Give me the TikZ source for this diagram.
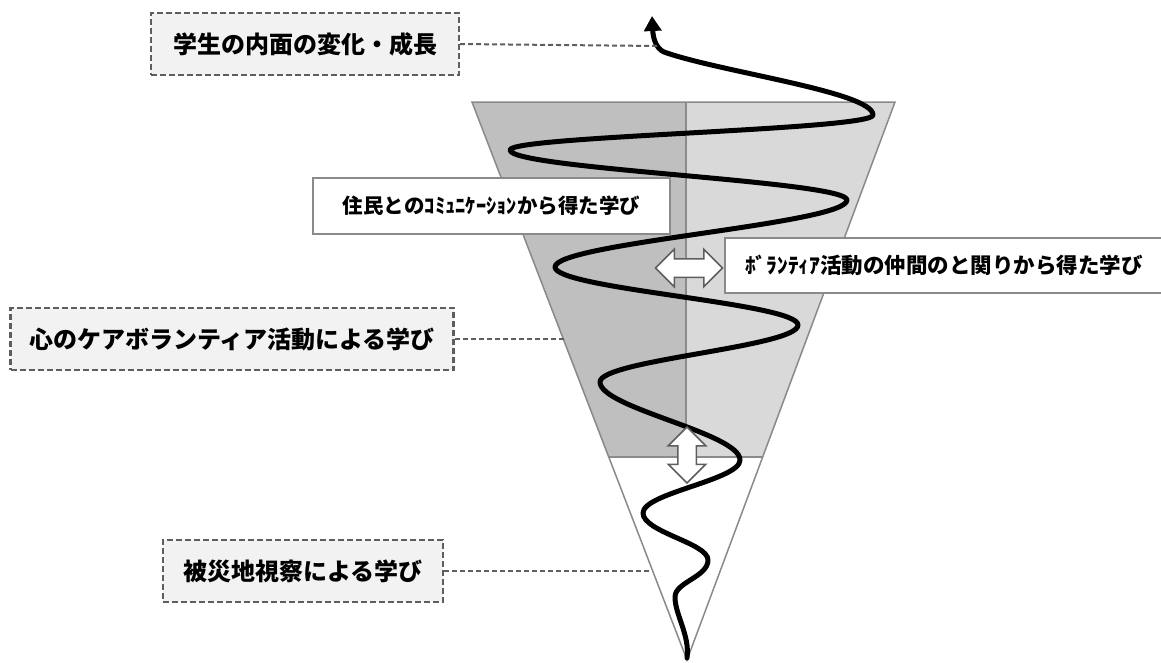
\documentclass[tikz,border=0pt]{standalone}
\usepackage{fontspec}
\newfontfamily\jp{Noto Sans CJK JP}
\usetikzlibrary{shapes.arrows,arrows.meta}
\definecolor{edgegray}{HTML}{8A8A8A}
\definecolor{dashgray}{HTML}{5E5E5E}
\definecolor{boxfill}{HTML}{F2F2F2}
\definecolor{darkreg}{HTML}{BFBFBF}
\definecolor{lightreg}{HTML}{D9D9D9}
\begin{document}
\begin{tikzpicture}[x=1pt,y=-1pt,
  dbox/.style={draw=dashgray, line width=2.2pt, dash pattern=on 6pt off 3pt, fill=boxfill,
    font=\jp\bfseries\fontsize{24}{26}\selectfont, inner sep=0pt, minimum height=62pt},
  sbox/.style={draw=edgegray, line width=1.5pt, fill=white,
    font=\jp\bfseries\fontsize{20.5}{24}\selectfont, inner sep=0pt},
  leader/.style={draw=dashgray, line width=2pt, dash pattern=on 5pt off 3pt},
  region/.style={draw=edgegray, line width=1.5pt},
  dbl/.style={double arrow, draw=dashgray, line width=1.5pt, fill=white,
    inner xsep=0pt, inner ysep=8.5pt, double arrow head extend=9.5pt,
    double arrow tip angle=90},
  spiral/.style={line width=5pt, line cap=round, line join=round}
]
\useasboundingbox (0,0) rectangle (1161,662);

% triangle regions
\coordinate (tl) at (472,102);
\coordinate (tm) at (686,102);
\coordinate (tr) at (895,102);
\coordinate (ml) at (608,457);
\coordinate (mm) at (686,457);
\coordinate (mr) at (763,457);
\coordinate (ap) at (687,660);
\fill[darkreg] (tl) -- (tm) -- (mm) -- (ml) -- cycle;
\fill[lightreg] (tm) -- (tr) -- (mr) -- (mm) -- cycle;
\fill[white] (ml) -- (mr) -- (ap) -- cycle;
\draw[region] (tl) -- (tr) -- (ap) -- cycle;
\draw[region] (tm) -- (mm);
\draw[region] (ml) -- (mr);

% spiral
\coordinate (s0) at (687,658);
\coordinate (s1) at (675,597);
\coordinate (s2) at (708,560);
\coordinate (s3) at (643,513);
\coordinate (s4) at (740,460);
\coordinate (s5) at (600,382);
\coordinate (s6) at (798,325);
\coordinate (s7) at (555,267);
\coordinate (s8) at (847,200);
\coordinate (s9) at (510,150);
\coordinate (s10) at (873,115);
\coordinate (s11) at (664,52);
\coordinate (s12) at (652,16);
\draw[spiral, -{Triangle[length=15pt,width=17pt]}]
  (s0) .. controls (690,635) and (675,615) .. (s1)
       .. controls (675,582) and (708,577) .. (s2)
       .. controls (708,543) and (643,532) .. (s3)
       .. controls (643,493) and (740,480) .. (s4)
       .. controls (740,433) and (600,408) .. (s5)
       .. controls (600,360) and (798,347) .. (s6)
       .. controls (798,303) and (555,289) .. (s7)
       .. controls (555,243) and (847,224) .. (s8)
       .. controls (847,181) and (510,169) .. (s9)
       .. controls (510,136) and (873,130) .. (s10)
       .. controls (873,92) and (720,72) .. (s11)
       .. controls (655,48) and (653,36) .. (s12);

% double arrows
\node[dbl, minimum height=67pt] (ha) at (689,268) {};
\node[dbl, minimum height=56pt, rotate=90] (va) at (687,455) {};

% boxes
\node[dbox, minimum width=308pt] (b1) at (305,44) {学生の内面の変化・成長};
\node[dbox, minimum width=443pt] (b4) at (232,339) {心のケアボランティア活動による学び};
\node[dbox, minimum width=280pt] (b5) at (303,571) {被災地視察による学び};
\node[sbox, minimum width=357pt, minimum height=56pt] (b2) at (491.5,206) {住民とのｺﾐｭﾆｹｰｼｮﾝから得た学び};
\node[sbox, minimum width=438pt, minimum height=55pt, font=\jp\bfseries\fontsize{21.5}{24}\selectfont] (b3) at (944,265.5) {ﾎﾞﾗﾝﾃｨｱ活動の仲間のと関りから得た学び};

% leaders
\coordinate (e1) at (657,46);
\coordinate (e4) at (565,339);
\coordinate (e5) at (652,571);
\draw[leader] (b1.east) -- (e1);
\draw[leader] (b4.east) -- (e4);
\draw[leader] (b5.east) -- (e5);
\end{tikzpicture}
\end{document}
